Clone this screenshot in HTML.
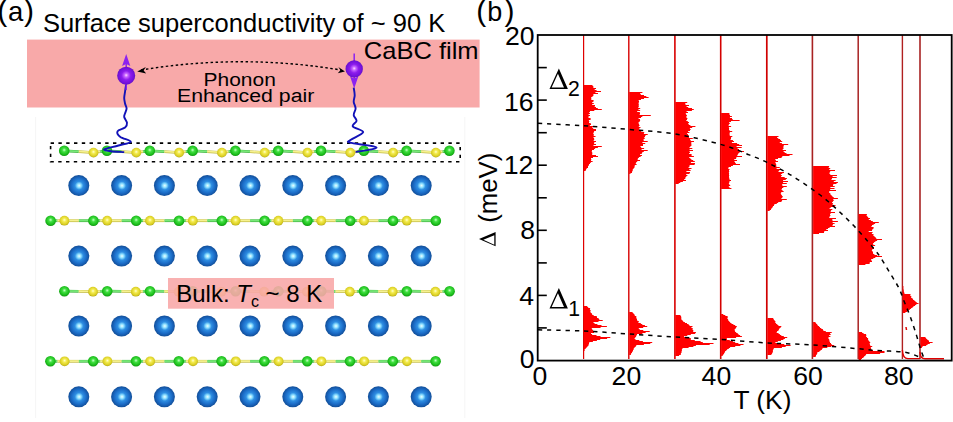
<!DOCTYPE html>
<html><head><meta charset="utf-8"><style>
html,body{margin:0;padding:0;background:#fff;width:953px;height:422px;overflow:hidden}
svg{display:block}
</style></head><body>
<svg width="953" height="422" viewBox="0 0 953 422">
<defs>
<radialGradient id="gBlue" cx="0.5" cy="0.5" r="0.55" fx="0.52" fy="0.5">
 <stop offset="0" stop-color="#ecffff"/>
 <stop offset="0.17" stop-color="#8ee0ff"/>
 <stop offset="0.36" stop-color="#2e8ee2"/>
 <stop offset="0.65" stop-color="#1b6bc6"/>
 <stop offset="1" stop-color="#0f4488"/>
</radialGradient>
<radialGradient id="gGreen" cx="0.5" cy="0.45" r="0.6" fx="0.5" fy="0.42">
 <stop offset="0" stop-color="#c8ffc8"/>
 <stop offset="0.3" stop-color="#40e040"/>
 <stop offset="0.75" stop-color="#18b818"/>
 <stop offset="1" stop-color="#0c800c"/>
</radialGradient>
<radialGradient id="gYellow" cx="0.5" cy="0.45" r="0.6" fx="0.5" fy="0.42">
 <stop offset="0" stop-color="#ffffd0"/>
 <stop offset="0.3" stop-color="#f4ec50"/>
 <stop offset="0.75" stop-color="#d8cc20"/>
 <stop offset="1" stop-color="#9a9010"/>
</radialGradient>
<radialGradient id="gPurple" cx="0.5" cy="0.5" r="0.56" fx="0.5" fy="0.47">
 <stop offset="0" stop-color="#ffd8ff"/>
 <stop offset="0.18" stop-color="#c868ff"/>
 <stop offset="0.45" stop-color="#8c1cec"/>
 <stop offset="0.8" stop-color="#7010d8"/>
 <stop offset="1" stop-color="#5008a8"/>
</radialGradient>
</defs>
<line x1="35.6" y1="117" x2="35.6" y2="418" stroke="#f5f5f5" stroke-width="1"/>
<line x1="464.8" y1="117" x2="464.8" y2="418" stroke="#f5f5f5" stroke-width="1"/>
<circle cx="78.8" cy="185.6" r="10.5" fill="url(#gBlue)"/>
<circle cx="121.6" cy="185.6" r="10.5" fill="url(#gBlue)"/>
<circle cx="164.4" cy="185.6" r="10.5" fill="url(#gBlue)"/>
<circle cx="207.2" cy="185.6" r="10.5" fill="url(#gBlue)"/>
<circle cx="250.0" cy="185.6" r="10.5" fill="url(#gBlue)"/>
<circle cx="292.8" cy="185.6" r="10.5" fill="url(#gBlue)"/>
<circle cx="335.6" cy="185.6" r="10.5" fill="url(#gBlue)"/>
<circle cx="378.4" cy="185.6" r="10.5" fill="url(#gBlue)"/>
<circle cx="421.2" cy="185.6" r="10.5" fill="url(#gBlue)"/>
<circle cx="78.8" cy="256.1" r="10.5" fill="url(#gBlue)"/>
<circle cx="121.6" cy="256.1" r="10.5" fill="url(#gBlue)"/>
<circle cx="164.4" cy="256.1" r="10.5" fill="url(#gBlue)"/>
<circle cx="207.2" cy="256.1" r="10.5" fill="url(#gBlue)"/>
<circle cx="250.0" cy="256.1" r="10.5" fill="url(#gBlue)"/>
<circle cx="292.8" cy="256.1" r="10.5" fill="url(#gBlue)"/>
<circle cx="335.6" cy="256.1" r="10.5" fill="url(#gBlue)"/>
<circle cx="378.4" cy="256.1" r="10.5" fill="url(#gBlue)"/>
<circle cx="421.2" cy="256.1" r="10.5" fill="url(#gBlue)"/>
<circle cx="78.8" cy="326.0" r="10.5" fill="url(#gBlue)"/>
<circle cx="121.6" cy="326.0" r="10.5" fill="url(#gBlue)"/>
<circle cx="164.4" cy="326.0" r="10.5" fill="url(#gBlue)"/>
<circle cx="207.2" cy="326.0" r="10.5" fill="url(#gBlue)"/>
<circle cx="250.0" cy="326.0" r="10.5" fill="url(#gBlue)"/>
<circle cx="292.8" cy="326.0" r="10.5" fill="url(#gBlue)"/>
<circle cx="335.6" cy="326.0" r="10.5" fill="url(#gBlue)"/>
<circle cx="378.4" cy="326.0" r="10.5" fill="url(#gBlue)"/>
<circle cx="421.2" cy="326.0" r="10.5" fill="url(#gBlue)"/>
<circle cx="78.8" cy="396.8" r="10.5" fill="url(#gBlue)"/>
<circle cx="121.6" cy="396.8" r="10.5" fill="url(#gBlue)"/>
<circle cx="164.4" cy="396.8" r="10.5" fill="url(#gBlue)"/>
<circle cx="207.2" cy="396.8" r="10.5" fill="url(#gBlue)"/>
<circle cx="250.0" cy="396.8" r="10.5" fill="url(#gBlue)"/>
<circle cx="292.8" cy="396.8" r="10.5" fill="url(#gBlue)"/>
<circle cx="335.6" cy="396.8" r="10.5" fill="url(#gBlue)"/>
<circle cx="378.4" cy="396.8" r="10.5" fill="url(#gBlue)"/>
<circle cx="421.2" cy="396.8" r="10.5" fill="url(#gBlue)"/>
<line x1="64.2" y1="150.8" x2="78.8" y2="151.7" stroke="#48b848" stroke-width="2.8"/>
<line x1="78.8" y1="151.7" x2="93.5" y2="152.6" stroke="#c4bc48" stroke-width="2.8"/>
<line x1="64.2" y1="150.6" x2="78.8" y2="151.5" stroke="#78e878" stroke-width="1.7"/>
<line x1="78.8" y1="151.5" x2="93.5" y2="152.4" stroke="#f6f290" stroke-width="1.7"/>
<line x1="93.5" y1="152.6" x2="100.2" y2="151.7" stroke="#c4bc48" stroke-width="2.8"/>
<line x1="100.2" y1="151.7" x2="107.0" y2="150.8" stroke="#48b848" stroke-width="2.8"/>
<line x1="93.5" y1="152.4" x2="100.2" y2="151.5" stroke="#f6f290" stroke-width="1.7"/>
<line x1="100.2" y1="151.5" x2="107.0" y2="150.6" stroke="#78e878" stroke-width="1.7"/>
<line x1="107.0" y1="150.8" x2="121.7" y2="151.7" stroke="#48b848" stroke-width="2.8"/>
<line x1="121.7" y1="151.7" x2="136.3" y2="152.6" stroke="#c4bc48" stroke-width="2.8"/>
<line x1="107.0" y1="150.6" x2="121.7" y2="151.5" stroke="#78e878" stroke-width="1.7"/>
<line x1="121.7" y1="151.5" x2="136.3" y2="152.4" stroke="#f6f290" stroke-width="1.7"/>
<line x1="136.3" y1="152.6" x2="143.1" y2="151.7" stroke="#c4bc48" stroke-width="2.8"/>
<line x1="143.1" y1="151.7" x2="149.8" y2="150.8" stroke="#48b848" stroke-width="2.8"/>
<line x1="136.3" y1="152.4" x2="143.1" y2="151.5" stroke="#f6f290" stroke-width="1.7"/>
<line x1="143.1" y1="151.5" x2="149.8" y2="150.6" stroke="#78e878" stroke-width="1.7"/>
<line x1="149.8" y1="150.8" x2="164.4" y2="151.7" stroke="#48b848" stroke-width="2.8"/>
<line x1="164.4" y1="151.7" x2="179.1" y2="152.6" stroke="#c4bc48" stroke-width="2.8"/>
<line x1="149.8" y1="150.6" x2="164.4" y2="151.5" stroke="#78e878" stroke-width="1.7"/>
<line x1="164.4" y1="151.5" x2="179.1" y2="152.4" stroke="#f6f290" stroke-width="1.7"/>
<line x1="179.1" y1="152.6" x2="185.8" y2="151.7" stroke="#c4bc48" stroke-width="2.8"/>
<line x1="185.8" y1="151.7" x2="192.6" y2="150.8" stroke="#48b848" stroke-width="2.8"/>
<line x1="179.1" y1="152.4" x2="185.8" y2="151.5" stroke="#f6f290" stroke-width="1.7"/>
<line x1="185.8" y1="151.5" x2="192.6" y2="150.6" stroke="#78e878" stroke-width="1.7"/>
<line x1="192.6" y1="150.8" x2="207.2" y2="151.7" stroke="#48b848" stroke-width="2.8"/>
<line x1="207.2" y1="151.7" x2="221.9" y2="152.6" stroke="#c4bc48" stroke-width="2.8"/>
<line x1="192.6" y1="150.6" x2="207.2" y2="151.5" stroke="#78e878" stroke-width="1.7"/>
<line x1="207.2" y1="151.5" x2="221.9" y2="152.4" stroke="#f6f290" stroke-width="1.7"/>
<line x1="221.9" y1="152.6" x2="228.6" y2="151.7" stroke="#c4bc48" stroke-width="2.8"/>
<line x1="228.6" y1="151.7" x2="235.4" y2="150.8" stroke="#48b848" stroke-width="2.8"/>
<line x1="221.9" y1="152.4" x2="228.6" y2="151.5" stroke="#f6f290" stroke-width="1.7"/>
<line x1="228.6" y1="151.5" x2="235.4" y2="150.6" stroke="#78e878" stroke-width="1.7"/>
<line x1="235.4" y1="150.8" x2="250.0" y2="151.7" stroke="#48b848" stroke-width="2.8"/>
<line x1="250.0" y1="151.7" x2="264.7" y2="152.6" stroke="#c4bc48" stroke-width="2.8"/>
<line x1="235.4" y1="150.6" x2="250.0" y2="151.5" stroke="#78e878" stroke-width="1.7"/>
<line x1="250.0" y1="151.5" x2="264.7" y2="152.4" stroke="#f6f290" stroke-width="1.7"/>
<line x1="264.7" y1="152.6" x2="271.4" y2="151.7" stroke="#c4bc48" stroke-width="2.8"/>
<line x1="271.4" y1="151.7" x2="278.2" y2="150.8" stroke="#48b848" stroke-width="2.8"/>
<line x1="264.7" y1="152.4" x2="271.4" y2="151.5" stroke="#f6f290" stroke-width="1.7"/>
<line x1="271.4" y1="151.5" x2="278.2" y2="150.6" stroke="#78e878" stroke-width="1.7"/>
<line x1="278.2" y1="150.8" x2="292.9" y2="151.7" stroke="#48b848" stroke-width="2.8"/>
<line x1="292.9" y1="151.7" x2="307.5" y2="152.6" stroke="#c4bc48" stroke-width="2.8"/>
<line x1="278.2" y1="150.6" x2="292.9" y2="151.5" stroke="#78e878" stroke-width="1.7"/>
<line x1="292.9" y1="151.5" x2="307.5" y2="152.4" stroke="#f6f290" stroke-width="1.7"/>
<line x1="307.5" y1="152.6" x2="314.2" y2="151.7" stroke="#c4bc48" stroke-width="2.8"/>
<line x1="314.2" y1="151.7" x2="321.0" y2="150.8" stroke="#48b848" stroke-width="2.8"/>
<line x1="307.5" y1="152.4" x2="314.2" y2="151.5" stroke="#f6f290" stroke-width="1.7"/>
<line x1="314.2" y1="151.5" x2="321.0" y2="150.6" stroke="#78e878" stroke-width="1.7"/>
<line x1="321.0" y1="150.8" x2="335.6" y2="151.7" stroke="#48b848" stroke-width="2.8"/>
<line x1="335.6" y1="151.7" x2="350.3" y2="152.6" stroke="#c4bc48" stroke-width="2.8"/>
<line x1="321.0" y1="150.6" x2="335.6" y2="151.5" stroke="#78e878" stroke-width="1.7"/>
<line x1="335.6" y1="151.5" x2="350.3" y2="152.4" stroke="#f6f290" stroke-width="1.7"/>
<line x1="350.3" y1="152.6" x2="357.0" y2="151.7" stroke="#c4bc48" stroke-width="2.8"/>
<line x1="357.0" y1="151.7" x2="363.8" y2="150.8" stroke="#48b848" stroke-width="2.8"/>
<line x1="350.3" y1="152.4" x2="357.0" y2="151.5" stroke="#f6f290" stroke-width="1.7"/>
<line x1="357.0" y1="151.5" x2="363.8" y2="150.6" stroke="#78e878" stroke-width="1.7"/>
<line x1="363.8" y1="150.8" x2="378.4" y2="151.7" stroke="#48b848" stroke-width="2.8"/>
<line x1="378.4" y1="151.7" x2="393.1" y2="152.6" stroke="#c4bc48" stroke-width="2.8"/>
<line x1="363.8" y1="150.6" x2="378.4" y2="151.5" stroke="#78e878" stroke-width="1.7"/>
<line x1="378.4" y1="151.5" x2="393.1" y2="152.4" stroke="#f6f290" stroke-width="1.7"/>
<line x1="393.1" y1="152.6" x2="399.8" y2="151.7" stroke="#c4bc48" stroke-width="2.8"/>
<line x1="399.8" y1="151.7" x2="406.6" y2="150.8" stroke="#48b848" stroke-width="2.8"/>
<line x1="393.1" y1="152.4" x2="399.8" y2="151.5" stroke="#f6f290" stroke-width="1.7"/>
<line x1="399.8" y1="151.5" x2="406.6" y2="150.6" stroke="#78e878" stroke-width="1.7"/>
<line x1="406.6" y1="150.8" x2="421.2" y2="151.7" stroke="#48b848" stroke-width="2.8"/>
<line x1="421.2" y1="151.7" x2="435.9" y2="152.6" stroke="#c4bc48" stroke-width="2.8"/>
<line x1="406.6" y1="150.6" x2="421.2" y2="151.5" stroke="#78e878" stroke-width="1.7"/>
<line x1="421.2" y1="151.5" x2="435.9" y2="152.4" stroke="#f6f290" stroke-width="1.7"/>
<line x1="435.9" y1="152.6" x2="442.6" y2="151.7" stroke="#c4bc48" stroke-width="2.8"/>
<line x1="442.6" y1="151.7" x2="449.4" y2="150.8" stroke="#48b848" stroke-width="2.8"/>
<line x1="435.9" y1="152.4" x2="442.6" y2="151.5" stroke="#f6f290" stroke-width="1.7"/>
<line x1="442.6" y1="151.5" x2="449.4" y2="150.6" stroke="#78e878" stroke-width="1.7"/>
<circle cx="64.2" cy="150.8" r="5.3" fill="url(#gGreen)"/>
<circle cx="93.5" cy="152.6" r="4.9" fill="url(#gYellow)"/>
<circle cx="107.0" cy="150.8" r="5.3" fill="url(#gGreen)"/>
<circle cx="136.3" cy="152.6" r="4.9" fill="url(#gYellow)"/>
<circle cx="149.8" cy="150.8" r="5.3" fill="url(#gGreen)"/>
<circle cx="179.1" cy="152.6" r="4.9" fill="url(#gYellow)"/>
<circle cx="192.6" cy="150.8" r="5.3" fill="url(#gGreen)"/>
<circle cx="221.9" cy="152.6" r="4.9" fill="url(#gYellow)"/>
<circle cx="235.4" cy="150.8" r="5.3" fill="url(#gGreen)"/>
<circle cx="264.7" cy="152.6" r="4.9" fill="url(#gYellow)"/>
<circle cx="278.2" cy="150.8" r="5.3" fill="url(#gGreen)"/>
<circle cx="307.5" cy="152.6" r="4.9" fill="url(#gYellow)"/>
<circle cx="321.0" cy="150.8" r="5.3" fill="url(#gGreen)"/>
<circle cx="350.3" cy="152.6" r="4.9" fill="url(#gYellow)"/>
<circle cx="363.8" cy="150.8" r="5.3" fill="url(#gGreen)"/>
<circle cx="393.1" cy="152.6" r="4.9" fill="url(#gYellow)"/>
<circle cx="406.6" cy="150.8" r="5.3" fill="url(#gGreen)"/>
<circle cx="435.9" cy="152.6" r="4.9" fill="url(#gYellow)"/>
<circle cx="449.4" cy="150.8" r="5.3" fill="url(#gGreen)"/>
<line x1="50.6" y1="220.7" x2="57.5" y2="220.7" stroke="#48b848" stroke-width="2.8"/>
<line x1="57.5" y1="220.7" x2="64.4" y2="220.7" stroke="#c4bc48" stroke-width="2.8"/>
<line x1="50.6" y1="220.5" x2="57.5" y2="220.5" stroke="#78e878" stroke-width="1.7"/>
<line x1="57.5" y1="220.5" x2="64.4" y2="220.5" stroke="#f6f290" stroke-width="1.7"/>
<line x1="64.4" y1="220.7" x2="78.9" y2="220.7" stroke="#c4bc48" stroke-width="2.8"/>
<line x1="78.9" y1="220.7" x2="93.4" y2="220.7" stroke="#48b848" stroke-width="2.8"/>
<line x1="64.4" y1="220.5" x2="78.9" y2="220.5" stroke="#f6f290" stroke-width="1.7"/>
<line x1="78.9" y1="220.5" x2="93.4" y2="220.5" stroke="#78e878" stroke-width="1.7"/>
<line x1="93.4" y1="220.7" x2="100.3" y2="220.7" stroke="#48b848" stroke-width="2.8"/>
<line x1="100.3" y1="220.7" x2="107.2" y2="220.7" stroke="#c4bc48" stroke-width="2.8"/>
<line x1="93.4" y1="220.5" x2="100.3" y2="220.5" stroke="#78e878" stroke-width="1.7"/>
<line x1="100.3" y1="220.5" x2="107.2" y2="220.5" stroke="#f6f290" stroke-width="1.7"/>
<line x1="107.2" y1="220.7" x2="121.7" y2="220.7" stroke="#c4bc48" stroke-width="2.8"/>
<line x1="121.7" y1="220.7" x2="136.2" y2="220.7" stroke="#48b848" stroke-width="2.8"/>
<line x1="107.2" y1="220.5" x2="121.7" y2="220.5" stroke="#f6f290" stroke-width="1.7"/>
<line x1="121.7" y1="220.5" x2="136.2" y2="220.5" stroke="#78e878" stroke-width="1.7"/>
<line x1="136.2" y1="220.7" x2="143.1" y2="220.7" stroke="#48b848" stroke-width="2.8"/>
<line x1="143.1" y1="220.7" x2="150.0" y2="220.7" stroke="#c4bc48" stroke-width="2.8"/>
<line x1="136.2" y1="220.5" x2="143.1" y2="220.5" stroke="#78e878" stroke-width="1.7"/>
<line x1="143.1" y1="220.5" x2="150.0" y2="220.5" stroke="#f6f290" stroke-width="1.7"/>
<line x1="150.0" y1="220.7" x2="164.5" y2="220.7" stroke="#c4bc48" stroke-width="2.8"/>
<line x1="164.5" y1="220.7" x2="179.0" y2="220.7" stroke="#48b848" stroke-width="2.8"/>
<line x1="150.0" y1="220.5" x2="164.5" y2="220.5" stroke="#f6f290" stroke-width="1.7"/>
<line x1="164.5" y1="220.5" x2="179.0" y2="220.5" stroke="#78e878" stroke-width="1.7"/>
<line x1="179.0" y1="220.7" x2="185.9" y2="220.7" stroke="#48b848" stroke-width="2.8"/>
<line x1="185.9" y1="220.7" x2="192.8" y2="220.7" stroke="#c4bc48" stroke-width="2.8"/>
<line x1="179.0" y1="220.5" x2="185.9" y2="220.5" stroke="#78e878" stroke-width="1.7"/>
<line x1="185.9" y1="220.5" x2="192.8" y2="220.5" stroke="#f6f290" stroke-width="1.7"/>
<line x1="192.8" y1="220.7" x2="207.3" y2="220.7" stroke="#c4bc48" stroke-width="2.8"/>
<line x1="207.3" y1="220.7" x2="221.8" y2="220.7" stroke="#48b848" stroke-width="2.8"/>
<line x1="192.8" y1="220.5" x2="207.3" y2="220.5" stroke="#f6f290" stroke-width="1.7"/>
<line x1="207.3" y1="220.5" x2="221.8" y2="220.5" stroke="#78e878" stroke-width="1.7"/>
<line x1="221.8" y1="220.7" x2="228.7" y2="220.7" stroke="#48b848" stroke-width="2.8"/>
<line x1="228.7" y1="220.7" x2="235.6" y2="220.7" stroke="#c4bc48" stroke-width="2.8"/>
<line x1="221.8" y1="220.5" x2="228.7" y2="220.5" stroke="#78e878" stroke-width="1.7"/>
<line x1="228.7" y1="220.5" x2="235.6" y2="220.5" stroke="#f6f290" stroke-width="1.7"/>
<line x1="235.6" y1="220.7" x2="250.1" y2="220.7" stroke="#c4bc48" stroke-width="2.8"/>
<line x1="250.1" y1="220.7" x2="264.6" y2="220.7" stroke="#48b848" stroke-width="2.8"/>
<line x1="235.6" y1="220.5" x2="250.1" y2="220.5" stroke="#f6f290" stroke-width="1.7"/>
<line x1="250.1" y1="220.5" x2="264.6" y2="220.5" stroke="#78e878" stroke-width="1.7"/>
<line x1="264.6" y1="220.7" x2="271.5" y2="220.7" stroke="#48b848" stroke-width="2.8"/>
<line x1="271.5" y1="220.7" x2="278.4" y2="220.7" stroke="#c4bc48" stroke-width="2.8"/>
<line x1="264.6" y1="220.5" x2="271.5" y2="220.5" stroke="#78e878" stroke-width="1.7"/>
<line x1="271.5" y1="220.5" x2="278.4" y2="220.5" stroke="#f6f290" stroke-width="1.7"/>
<line x1="278.4" y1="220.7" x2="292.9" y2="220.7" stroke="#c4bc48" stroke-width="2.8"/>
<line x1="292.9" y1="220.7" x2="307.4" y2="220.7" stroke="#48b848" stroke-width="2.8"/>
<line x1="278.4" y1="220.5" x2="292.9" y2="220.5" stroke="#f6f290" stroke-width="1.7"/>
<line x1="292.9" y1="220.5" x2="307.4" y2="220.5" stroke="#78e878" stroke-width="1.7"/>
<line x1="307.4" y1="220.7" x2="314.3" y2="220.7" stroke="#48b848" stroke-width="2.8"/>
<line x1="314.3" y1="220.7" x2="321.2" y2="220.7" stroke="#c4bc48" stroke-width="2.8"/>
<line x1="307.4" y1="220.5" x2="314.3" y2="220.5" stroke="#78e878" stroke-width="1.7"/>
<line x1="314.3" y1="220.5" x2="321.2" y2="220.5" stroke="#f6f290" stroke-width="1.7"/>
<line x1="321.2" y1="220.7" x2="335.7" y2="220.7" stroke="#c4bc48" stroke-width="2.8"/>
<line x1="335.7" y1="220.7" x2="350.2" y2="220.7" stroke="#48b848" stroke-width="2.8"/>
<line x1="321.2" y1="220.5" x2="335.7" y2="220.5" stroke="#f6f290" stroke-width="1.7"/>
<line x1="335.7" y1="220.5" x2="350.2" y2="220.5" stroke="#78e878" stroke-width="1.7"/>
<line x1="350.2" y1="220.7" x2="357.1" y2="220.7" stroke="#48b848" stroke-width="2.8"/>
<line x1="357.1" y1="220.7" x2="364.0" y2="220.7" stroke="#c4bc48" stroke-width="2.8"/>
<line x1="350.2" y1="220.5" x2="357.1" y2="220.5" stroke="#78e878" stroke-width="1.7"/>
<line x1="357.1" y1="220.5" x2="364.0" y2="220.5" stroke="#f6f290" stroke-width="1.7"/>
<line x1="364.0" y1="220.7" x2="378.5" y2="220.7" stroke="#c4bc48" stroke-width="2.8"/>
<line x1="378.5" y1="220.7" x2="393.0" y2="220.7" stroke="#48b848" stroke-width="2.8"/>
<line x1="364.0" y1="220.5" x2="378.5" y2="220.5" stroke="#f6f290" stroke-width="1.7"/>
<line x1="378.5" y1="220.5" x2="393.0" y2="220.5" stroke="#78e878" stroke-width="1.7"/>
<line x1="393.0" y1="220.7" x2="399.9" y2="220.7" stroke="#48b848" stroke-width="2.8"/>
<line x1="399.9" y1="220.7" x2="406.8" y2="220.7" stroke="#c4bc48" stroke-width="2.8"/>
<line x1="393.0" y1="220.5" x2="399.9" y2="220.5" stroke="#78e878" stroke-width="1.7"/>
<line x1="399.9" y1="220.5" x2="406.8" y2="220.5" stroke="#f6f290" stroke-width="1.7"/>
<line x1="406.8" y1="220.7" x2="421.3" y2="220.7" stroke="#c4bc48" stroke-width="2.8"/>
<line x1="421.3" y1="220.7" x2="435.8" y2="220.7" stroke="#48b848" stroke-width="2.8"/>
<line x1="406.8" y1="220.5" x2="421.3" y2="220.5" stroke="#f6f290" stroke-width="1.7"/>
<line x1="421.3" y1="220.5" x2="435.8" y2="220.5" stroke="#78e878" stroke-width="1.7"/>
<circle cx="50.6" cy="220.7" r="5.3" fill="url(#gGreen)"/>
<circle cx="64.4" cy="220.7" r="4.9" fill="url(#gYellow)"/>
<circle cx="93.4" cy="220.7" r="5.3" fill="url(#gGreen)"/>
<circle cx="107.2" cy="220.7" r="4.9" fill="url(#gYellow)"/>
<circle cx="136.2" cy="220.7" r="5.3" fill="url(#gGreen)"/>
<circle cx="150.0" cy="220.7" r="4.9" fill="url(#gYellow)"/>
<circle cx="179.0" cy="220.7" r="5.3" fill="url(#gGreen)"/>
<circle cx="192.8" cy="220.7" r="4.9" fill="url(#gYellow)"/>
<circle cx="221.8" cy="220.7" r="5.3" fill="url(#gGreen)"/>
<circle cx="235.6" cy="220.7" r="4.9" fill="url(#gYellow)"/>
<circle cx="264.6" cy="220.7" r="5.3" fill="url(#gGreen)"/>
<circle cx="278.4" cy="220.7" r="4.9" fill="url(#gYellow)"/>
<circle cx="307.4" cy="220.7" r="5.3" fill="url(#gGreen)"/>
<circle cx="321.2" cy="220.7" r="4.9" fill="url(#gYellow)"/>
<circle cx="350.2" cy="220.7" r="5.3" fill="url(#gGreen)"/>
<circle cx="364.0" cy="220.7" r="4.9" fill="url(#gYellow)"/>
<circle cx="393.0" cy="220.7" r="5.3" fill="url(#gGreen)"/>
<circle cx="406.8" cy="220.7" r="4.9" fill="url(#gYellow)"/>
<circle cx="435.8" cy="220.7" r="5.3" fill="url(#gGreen)"/>
<line x1="64.4" y1="291.2" x2="78.7" y2="291.4" stroke="#48b848" stroke-width="2.8"/>
<line x1="78.7" y1="291.4" x2="93.0" y2="291.7" stroke="#c4bc48" stroke-width="2.8"/>
<line x1="64.4" y1="291.0" x2="78.7" y2="291.2" stroke="#78e878" stroke-width="1.7"/>
<line x1="78.7" y1="291.2" x2="93.0" y2="291.5" stroke="#f6f290" stroke-width="1.7"/>
<line x1="93.0" y1="291.7" x2="100.1" y2="291.4" stroke="#c4bc48" stroke-width="2.8"/>
<line x1="100.1" y1="291.4" x2="107.2" y2="291.2" stroke="#48b848" stroke-width="2.8"/>
<line x1="93.0" y1="291.5" x2="100.1" y2="291.2" stroke="#f6f290" stroke-width="1.7"/>
<line x1="100.1" y1="291.2" x2="107.2" y2="291.0" stroke="#78e878" stroke-width="1.7"/>
<line x1="107.2" y1="291.2" x2="121.5" y2="291.4" stroke="#48b848" stroke-width="2.8"/>
<line x1="121.5" y1="291.4" x2="135.8" y2="291.7" stroke="#c4bc48" stroke-width="2.8"/>
<line x1="107.2" y1="291.0" x2="121.5" y2="291.2" stroke="#78e878" stroke-width="1.7"/>
<line x1="121.5" y1="291.2" x2="135.8" y2="291.5" stroke="#f6f290" stroke-width="1.7"/>
<line x1="135.8" y1="291.7" x2="142.9" y2="291.4" stroke="#c4bc48" stroke-width="2.8"/>
<line x1="142.9" y1="291.4" x2="150.0" y2="291.2" stroke="#48b848" stroke-width="2.8"/>
<line x1="135.8" y1="291.5" x2="142.9" y2="291.2" stroke="#f6f290" stroke-width="1.7"/>
<line x1="142.9" y1="291.2" x2="150.0" y2="291.0" stroke="#78e878" stroke-width="1.7"/>
<line x1="150.0" y1="291.2" x2="164.3" y2="291.4" stroke="#48b848" stroke-width="2.8"/>
<line x1="164.3" y1="291.4" x2="178.6" y2="291.7" stroke="#c4bc48" stroke-width="2.8"/>
<line x1="150.0" y1="291.0" x2="164.3" y2="291.2" stroke="#78e878" stroke-width="1.7"/>
<line x1="164.3" y1="291.2" x2="178.6" y2="291.5" stroke="#f6f290" stroke-width="1.7"/>
<line x1="178.6" y1="291.7" x2="185.7" y2="291.4" stroke="#c4bc48" stroke-width="2.8"/>
<line x1="185.7" y1="291.4" x2="192.8" y2="291.2" stroke="#48b848" stroke-width="2.8"/>
<line x1="178.6" y1="291.5" x2="185.7" y2="291.2" stroke="#f6f290" stroke-width="1.7"/>
<line x1="185.7" y1="291.2" x2="192.8" y2="291.0" stroke="#78e878" stroke-width="1.7"/>
<line x1="192.8" y1="291.2" x2="207.1" y2="291.4" stroke="#48b848" stroke-width="2.8"/>
<line x1="207.1" y1="291.4" x2="221.4" y2="291.7" stroke="#c4bc48" stroke-width="2.8"/>
<line x1="192.8" y1="291.0" x2="207.1" y2="291.2" stroke="#78e878" stroke-width="1.7"/>
<line x1="207.1" y1="291.2" x2="221.4" y2="291.5" stroke="#f6f290" stroke-width="1.7"/>
<line x1="221.4" y1="291.7" x2="228.5" y2="291.4" stroke="#c4bc48" stroke-width="2.8"/>
<line x1="228.5" y1="291.4" x2="235.6" y2="291.2" stroke="#48b848" stroke-width="2.8"/>
<line x1="221.4" y1="291.5" x2="228.5" y2="291.2" stroke="#f6f290" stroke-width="1.7"/>
<line x1="228.5" y1="291.2" x2="235.6" y2="291.0" stroke="#78e878" stroke-width="1.7"/>
<line x1="235.6" y1="291.2" x2="249.9" y2="291.4" stroke="#48b848" stroke-width="2.8"/>
<line x1="249.9" y1="291.4" x2="264.2" y2="291.7" stroke="#c4bc48" stroke-width="2.8"/>
<line x1="235.6" y1="291.0" x2="249.9" y2="291.2" stroke="#78e878" stroke-width="1.7"/>
<line x1="249.9" y1="291.2" x2="264.2" y2="291.5" stroke="#f6f290" stroke-width="1.7"/>
<line x1="264.2" y1="291.7" x2="271.3" y2="291.4" stroke="#c4bc48" stroke-width="2.8"/>
<line x1="271.3" y1="291.4" x2="278.4" y2="291.2" stroke="#48b848" stroke-width="2.8"/>
<line x1="264.2" y1="291.5" x2="271.3" y2="291.2" stroke="#f6f290" stroke-width="1.7"/>
<line x1="271.3" y1="291.2" x2="278.4" y2="291.0" stroke="#78e878" stroke-width="1.7"/>
<line x1="278.4" y1="291.2" x2="292.7" y2="291.4" stroke="#48b848" stroke-width="2.8"/>
<line x1="292.7" y1="291.4" x2="307.0" y2="291.7" stroke="#c4bc48" stroke-width="2.8"/>
<line x1="278.4" y1="291.0" x2="292.7" y2="291.2" stroke="#78e878" stroke-width="1.7"/>
<line x1="292.7" y1="291.2" x2="307.0" y2="291.5" stroke="#f6f290" stroke-width="1.7"/>
<line x1="307.0" y1="291.7" x2="314.1" y2="291.4" stroke="#c4bc48" stroke-width="2.8"/>
<line x1="314.1" y1="291.4" x2="321.2" y2="291.2" stroke="#48b848" stroke-width="2.8"/>
<line x1="307.0" y1="291.5" x2="314.1" y2="291.2" stroke="#f6f290" stroke-width="1.7"/>
<line x1="314.1" y1="291.2" x2="321.2" y2="291.0" stroke="#78e878" stroke-width="1.7"/>
<line x1="321.2" y1="291.2" x2="335.5" y2="291.4" stroke="#48b848" stroke-width="2.8"/>
<line x1="335.5" y1="291.4" x2="349.8" y2="291.7" stroke="#c4bc48" stroke-width="2.8"/>
<line x1="321.2" y1="291.0" x2="335.5" y2="291.2" stroke="#78e878" stroke-width="1.7"/>
<line x1="335.5" y1="291.2" x2="349.8" y2="291.5" stroke="#f6f290" stroke-width="1.7"/>
<line x1="349.8" y1="291.7" x2="356.9" y2="291.4" stroke="#c4bc48" stroke-width="2.8"/>
<line x1="356.9" y1="291.4" x2="364.0" y2="291.2" stroke="#48b848" stroke-width="2.8"/>
<line x1="349.8" y1="291.5" x2="356.9" y2="291.2" stroke="#f6f290" stroke-width="1.7"/>
<line x1="356.9" y1="291.2" x2="364.0" y2="291.0" stroke="#78e878" stroke-width="1.7"/>
<line x1="364.0" y1="291.2" x2="378.3" y2="291.4" stroke="#48b848" stroke-width="2.8"/>
<line x1="378.3" y1="291.4" x2="392.6" y2="291.7" stroke="#c4bc48" stroke-width="2.8"/>
<line x1="364.0" y1="291.0" x2="378.3" y2="291.2" stroke="#78e878" stroke-width="1.7"/>
<line x1="378.3" y1="291.2" x2="392.6" y2="291.5" stroke="#f6f290" stroke-width="1.7"/>
<line x1="392.6" y1="291.7" x2="399.7" y2="291.4" stroke="#c4bc48" stroke-width="2.8"/>
<line x1="399.7" y1="291.4" x2="406.8" y2="291.2" stroke="#48b848" stroke-width="2.8"/>
<line x1="392.6" y1="291.5" x2="399.7" y2="291.2" stroke="#f6f290" stroke-width="1.7"/>
<line x1="399.7" y1="291.2" x2="406.8" y2="291.0" stroke="#78e878" stroke-width="1.7"/>
<line x1="406.8" y1="291.2" x2="421.1" y2="291.4" stroke="#48b848" stroke-width="2.8"/>
<line x1="421.1" y1="291.4" x2="435.4" y2="291.7" stroke="#c4bc48" stroke-width="2.8"/>
<line x1="406.8" y1="291.0" x2="421.1" y2="291.2" stroke="#78e878" stroke-width="1.7"/>
<line x1="421.1" y1="291.2" x2="435.4" y2="291.5" stroke="#f6f290" stroke-width="1.7"/>
<line x1="435.4" y1="291.7" x2="442.5" y2="291.4" stroke="#c4bc48" stroke-width="2.8"/>
<line x1="442.5" y1="291.4" x2="449.6" y2="291.2" stroke="#48b848" stroke-width="2.8"/>
<line x1="435.4" y1="291.5" x2="442.5" y2="291.2" stroke="#f6f290" stroke-width="1.7"/>
<line x1="442.5" y1="291.2" x2="449.6" y2="291.0" stroke="#78e878" stroke-width="1.7"/>
<circle cx="64.4" cy="291.2" r="5.3" fill="url(#gGreen)"/>
<circle cx="93.0" cy="291.7" r="4.9" fill="url(#gYellow)"/>
<circle cx="107.2" cy="291.2" r="5.3" fill="url(#gGreen)"/>
<circle cx="135.8" cy="291.7" r="4.9" fill="url(#gYellow)"/>
<circle cx="150.0" cy="291.2" r="5.3" fill="url(#gGreen)"/>
<circle cx="178.6" cy="291.7" r="4.9" fill="url(#gYellow)"/>
<circle cx="192.8" cy="291.2" r="5.3" fill="url(#gGreen)"/>
<circle cx="221.4" cy="291.7" r="4.9" fill="url(#gYellow)"/>
<circle cx="235.6" cy="291.2" r="5.3" fill="url(#gGreen)"/>
<circle cx="264.2" cy="291.7" r="4.9" fill="url(#gYellow)"/>
<circle cx="278.4" cy="291.2" r="5.3" fill="url(#gGreen)"/>
<circle cx="307.0" cy="291.7" r="4.9" fill="url(#gYellow)"/>
<circle cx="321.2" cy="291.2" r="5.3" fill="url(#gGreen)"/>
<circle cx="349.8" cy="291.7" r="4.9" fill="url(#gYellow)"/>
<circle cx="364.0" cy="291.2" r="5.3" fill="url(#gGreen)"/>
<circle cx="392.6" cy="291.7" r="4.9" fill="url(#gYellow)"/>
<circle cx="406.8" cy="291.2" r="5.3" fill="url(#gGreen)"/>
<circle cx="435.4" cy="291.7" r="4.9" fill="url(#gYellow)"/>
<circle cx="449.6" cy="291.2" r="5.3" fill="url(#gGreen)"/>
<line x1="50.4" y1="361.3" x2="57.5" y2="361.3" stroke="#48b848" stroke-width="2.8"/>
<line x1="57.5" y1="361.3" x2="64.6" y2="361.3" stroke="#c4bc48" stroke-width="2.8"/>
<line x1="50.4" y1="361.1" x2="57.5" y2="361.1" stroke="#78e878" stroke-width="1.7"/>
<line x1="57.5" y1="361.1" x2="64.6" y2="361.1" stroke="#f6f290" stroke-width="1.7"/>
<line x1="64.6" y1="361.3" x2="78.9" y2="361.3" stroke="#c4bc48" stroke-width="2.8"/>
<line x1="78.9" y1="361.3" x2="93.2" y2="361.3" stroke="#48b848" stroke-width="2.8"/>
<line x1="64.6" y1="361.1" x2="78.9" y2="361.1" stroke="#f6f290" stroke-width="1.7"/>
<line x1="78.9" y1="361.1" x2="93.2" y2="361.1" stroke="#78e878" stroke-width="1.7"/>
<line x1="93.2" y1="361.3" x2="100.3" y2="361.3" stroke="#48b848" stroke-width="2.8"/>
<line x1="100.3" y1="361.3" x2="107.4" y2="361.3" stroke="#c4bc48" stroke-width="2.8"/>
<line x1="93.2" y1="361.1" x2="100.3" y2="361.1" stroke="#78e878" stroke-width="1.7"/>
<line x1="100.3" y1="361.1" x2="107.4" y2="361.1" stroke="#f6f290" stroke-width="1.7"/>
<line x1="107.4" y1="361.3" x2="121.7" y2="361.3" stroke="#c4bc48" stroke-width="2.8"/>
<line x1="121.7" y1="361.3" x2="136.0" y2="361.3" stroke="#48b848" stroke-width="2.8"/>
<line x1="107.4" y1="361.1" x2="121.7" y2="361.1" stroke="#f6f290" stroke-width="1.7"/>
<line x1="121.7" y1="361.1" x2="136.0" y2="361.1" stroke="#78e878" stroke-width="1.7"/>
<line x1="136.0" y1="361.3" x2="143.1" y2="361.3" stroke="#48b848" stroke-width="2.8"/>
<line x1="143.1" y1="361.3" x2="150.2" y2="361.3" stroke="#c4bc48" stroke-width="2.8"/>
<line x1="136.0" y1="361.1" x2="143.1" y2="361.1" stroke="#78e878" stroke-width="1.7"/>
<line x1="143.1" y1="361.1" x2="150.2" y2="361.1" stroke="#f6f290" stroke-width="1.7"/>
<line x1="150.2" y1="361.3" x2="164.5" y2="361.3" stroke="#c4bc48" stroke-width="2.8"/>
<line x1="164.5" y1="361.3" x2="178.8" y2="361.3" stroke="#48b848" stroke-width="2.8"/>
<line x1="150.2" y1="361.1" x2="164.5" y2="361.1" stroke="#f6f290" stroke-width="1.7"/>
<line x1="164.5" y1="361.1" x2="178.8" y2="361.1" stroke="#78e878" stroke-width="1.7"/>
<line x1="178.8" y1="361.3" x2="185.9" y2="361.3" stroke="#48b848" stroke-width="2.8"/>
<line x1="185.9" y1="361.3" x2="193.0" y2="361.3" stroke="#c4bc48" stroke-width="2.8"/>
<line x1="178.8" y1="361.1" x2="185.9" y2="361.1" stroke="#78e878" stroke-width="1.7"/>
<line x1="185.9" y1="361.1" x2="193.0" y2="361.1" stroke="#f6f290" stroke-width="1.7"/>
<line x1="193.0" y1="361.3" x2="207.3" y2="361.3" stroke="#c4bc48" stroke-width="2.8"/>
<line x1="207.3" y1="361.3" x2="221.6" y2="361.3" stroke="#48b848" stroke-width="2.8"/>
<line x1="193.0" y1="361.1" x2="207.3" y2="361.1" stroke="#f6f290" stroke-width="1.7"/>
<line x1="207.3" y1="361.1" x2="221.6" y2="361.1" stroke="#78e878" stroke-width="1.7"/>
<line x1="221.6" y1="361.3" x2="228.7" y2="361.3" stroke="#48b848" stroke-width="2.8"/>
<line x1="228.7" y1="361.3" x2="235.8" y2="361.3" stroke="#c4bc48" stroke-width="2.8"/>
<line x1="221.6" y1="361.1" x2="228.7" y2="361.1" stroke="#78e878" stroke-width="1.7"/>
<line x1="228.7" y1="361.1" x2="235.8" y2="361.1" stroke="#f6f290" stroke-width="1.7"/>
<line x1="235.8" y1="361.3" x2="250.1" y2="361.3" stroke="#c4bc48" stroke-width="2.8"/>
<line x1="250.1" y1="361.3" x2="264.4" y2="361.3" stroke="#48b848" stroke-width="2.8"/>
<line x1="235.8" y1="361.1" x2="250.1" y2="361.1" stroke="#f6f290" stroke-width="1.7"/>
<line x1="250.1" y1="361.1" x2="264.4" y2="361.1" stroke="#78e878" stroke-width="1.7"/>
<line x1="264.4" y1="361.3" x2="271.5" y2="361.3" stroke="#48b848" stroke-width="2.8"/>
<line x1="271.5" y1="361.3" x2="278.6" y2="361.3" stroke="#c4bc48" stroke-width="2.8"/>
<line x1="264.4" y1="361.1" x2="271.5" y2="361.1" stroke="#78e878" stroke-width="1.7"/>
<line x1="271.5" y1="361.1" x2="278.6" y2="361.1" stroke="#f6f290" stroke-width="1.7"/>
<line x1="278.6" y1="361.3" x2="292.9" y2="361.3" stroke="#c4bc48" stroke-width="2.8"/>
<line x1="292.9" y1="361.3" x2="307.2" y2="361.3" stroke="#48b848" stroke-width="2.8"/>
<line x1="278.6" y1="361.1" x2="292.9" y2="361.1" stroke="#f6f290" stroke-width="1.7"/>
<line x1="292.9" y1="361.1" x2="307.2" y2="361.1" stroke="#78e878" stroke-width="1.7"/>
<line x1="307.2" y1="361.3" x2="314.3" y2="361.3" stroke="#48b848" stroke-width="2.8"/>
<line x1="314.3" y1="361.3" x2="321.4" y2="361.3" stroke="#c4bc48" stroke-width="2.8"/>
<line x1="307.2" y1="361.1" x2="314.3" y2="361.1" stroke="#78e878" stroke-width="1.7"/>
<line x1="314.3" y1="361.1" x2="321.4" y2="361.1" stroke="#f6f290" stroke-width="1.7"/>
<line x1="321.4" y1="361.3" x2="335.7" y2="361.3" stroke="#c4bc48" stroke-width="2.8"/>
<line x1="335.7" y1="361.3" x2="350.0" y2="361.3" stroke="#48b848" stroke-width="2.8"/>
<line x1="321.4" y1="361.1" x2="335.7" y2="361.1" stroke="#f6f290" stroke-width="1.7"/>
<line x1="335.7" y1="361.1" x2="350.0" y2="361.1" stroke="#78e878" stroke-width="1.7"/>
<line x1="350.0" y1="361.3" x2="357.1" y2="361.3" stroke="#48b848" stroke-width="2.8"/>
<line x1="357.1" y1="361.3" x2="364.2" y2="361.3" stroke="#c4bc48" stroke-width="2.8"/>
<line x1="350.0" y1="361.1" x2="357.1" y2="361.1" stroke="#78e878" stroke-width="1.7"/>
<line x1="357.1" y1="361.1" x2="364.2" y2="361.1" stroke="#f6f290" stroke-width="1.7"/>
<line x1="364.2" y1="361.3" x2="378.5" y2="361.3" stroke="#c4bc48" stroke-width="2.8"/>
<line x1="378.5" y1="361.3" x2="392.8" y2="361.3" stroke="#48b848" stroke-width="2.8"/>
<line x1="364.2" y1="361.1" x2="378.5" y2="361.1" stroke="#f6f290" stroke-width="1.7"/>
<line x1="378.5" y1="361.1" x2="392.8" y2="361.1" stroke="#78e878" stroke-width="1.7"/>
<line x1="392.8" y1="361.3" x2="399.9" y2="361.3" stroke="#48b848" stroke-width="2.8"/>
<line x1="399.9" y1="361.3" x2="407.0" y2="361.3" stroke="#c4bc48" stroke-width="2.8"/>
<line x1="392.8" y1="361.1" x2="399.9" y2="361.1" stroke="#78e878" stroke-width="1.7"/>
<line x1="399.9" y1="361.1" x2="407.0" y2="361.1" stroke="#f6f290" stroke-width="1.7"/>
<line x1="407.0" y1="361.3" x2="421.3" y2="361.3" stroke="#c4bc48" stroke-width="2.8"/>
<line x1="421.3" y1="361.3" x2="435.6" y2="361.3" stroke="#48b848" stroke-width="2.8"/>
<line x1="407.0" y1="361.1" x2="421.3" y2="361.1" stroke="#f6f290" stroke-width="1.7"/>
<line x1="421.3" y1="361.1" x2="435.6" y2="361.1" stroke="#78e878" stroke-width="1.7"/>
<circle cx="50.4" cy="361.3" r="5.3" fill="url(#gGreen)"/>
<circle cx="64.6" cy="361.3" r="4.9" fill="url(#gYellow)"/>
<circle cx="93.2" cy="361.3" r="5.3" fill="url(#gGreen)"/>
<circle cx="107.4" cy="361.3" r="4.9" fill="url(#gYellow)"/>
<circle cx="136.0" cy="361.3" r="5.3" fill="url(#gGreen)"/>
<circle cx="150.2" cy="361.3" r="4.9" fill="url(#gYellow)"/>
<circle cx="178.8" cy="361.3" r="5.3" fill="url(#gGreen)"/>
<circle cx="193.0" cy="361.3" r="4.9" fill="url(#gYellow)"/>
<circle cx="221.6" cy="361.3" r="5.3" fill="url(#gGreen)"/>
<circle cx="235.8" cy="361.3" r="4.9" fill="url(#gYellow)"/>
<circle cx="264.4" cy="361.3" r="5.3" fill="url(#gGreen)"/>
<circle cx="278.6" cy="361.3" r="4.9" fill="url(#gYellow)"/>
<circle cx="307.2" cy="361.3" r="5.3" fill="url(#gGreen)"/>
<circle cx="321.4" cy="361.3" r="4.9" fill="url(#gYellow)"/>
<circle cx="350.0" cy="361.3" r="5.3" fill="url(#gGreen)"/>
<circle cx="364.2" cy="361.3" r="4.9" fill="url(#gYellow)"/>
<circle cx="392.8" cy="361.3" r="5.3" fill="url(#gGreen)"/>
<circle cx="407.0" cy="361.3" r="4.9" fill="url(#gYellow)"/>
<circle cx="435.6" cy="361.3" r="5.3" fill="url(#gGreen)"/>
<rect x="50.6" y="143.1" width="409.6" height="18.6" fill="none" stroke="#000" stroke-width="1.6" stroke-dasharray="3.4 4.4"/>
<rect x="27" y="39.6" width="452.6" height="67.9" fill="#f8a9a9"/>
<rect x="168" y="278" width="166" height="30.7" fill="#f8a9a9" fill-opacity="0.9"/>
<text x="-2.8" y="20.5" font-family="Liberation Sans, sans-serif" font-size="30">(</text><text x="8" y="20.5" font-family="Liberation Sans, sans-serif" font-size="27.5">a</text><text x="24" y="20.5" font-family="Liberation Sans, sans-serif" font-size="30">)</text>
<text x="42.9" y="32.3" font-family="Liberation Sans, sans-serif" font-size="25" textLength="402.4" lengthAdjust="spacingAndGlyphs">Surface superconductivity of ~ 90 K</text>
<text x="363.8" y="59.1" font-family="Liberation Sans, sans-serif" font-size="24" textLength="114.8" lengthAdjust="spacingAndGlyphs">CaBC film</text>
<text x="203.6" y="85.8" font-family="Liberation Sans, sans-serif" font-size="19.2" textLength="72.2" lengthAdjust="spacingAndGlyphs">Phonon</text>
<text x="177.1" y="101.7" font-family="Liberation Sans, sans-serif" font-size="17.6" textLength="137.2" lengthAdjust="spacingAndGlyphs">Enhanced pair</text>
<text x="176.2" y="301.8" font-family="Liberation Sans, sans-serif" font-size="24">Bulk: <tspan font-style="italic">T</tspan><tspan font-size="16" dy="5">c</tspan><tspan dy="-5"> ~ 8 K</tspan></text>
<path d="M126.1,84.7 C125.9,85.8 125.4,89.2 125.1,91.4 C124.8,93.6 124.2,96.0 124.2,98.0 C124.2,100.0 124.7,102.0 125.1,103.7 C125.5,105.5 126.6,106.9 126.6,108.5 C126.6,110.1 125.5,111.8 125.1,113.2 C124.7,114.6 123.9,115.4 124.2,117.0 C124.5,118.6 126.8,121.0 127.0,122.7 C127.2,124.5 126.7,126.1 125.1,127.5 C123.5,128.9 118.3,129.7 117.5,131.3 C116.7,132.9 118.2,135.3 120.4,137.0 C122.6,138.7 131.1,140.3 130.8,141.7 C130.5,143.1 122.9,144.2 118.5,145.5 C114.1,146.8 105.5,148.4 104.2,149.3 C102.9,150.2 107.6,150.7 110.9,151.2 C114.2,151.7 122.0,151.9 124.2,152.1" fill="none" stroke="#1212b8" stroke-width="1.9"/>
<path d="M353.7,87.6 C353.9,88.9 354.7,92.8 354.7,95.2 C354.7,97.6 353.5,99.6 353.7,101.8 C353.9,104.0 355.6,106.3 355.6,108.5 C355.6,110.7 353.5,113.0 353.7,115.1 C353.9,117.1 356.8,118.9 356.6,120.8 C356.5,122.7 351.7,124.6 352.8,126.5 C353.9,128.4 363.5,130.0 363.2,132.2 C362.9,134.4 353.1,138.1 350.9,139.8 C348.7,141.6 345.6,141.4 349.9,142.7 C354.2,144.0 375.6,145.8 376.5,147.4 C377.4,149.0 359.1,151.3 355.6,152.1" fill="none" stroke="#1212b8" stroke-width="1.9"/>
<path d="M141,70 Q241,53.5 341,70" fill="none" stroke="#000" stroke-width="1.4" stroke-dasharray="2.5 2.5"/>
<path d="M137.2,71.6 L145.8,67.0 L143.6,70.4 L146.2,73.4 Z" fill="#000"/>
<path d="M344.9,71.5 L338.4,66.9 L340.4,70.3 L337.8,73.3 Z" fill="#000"/>
<line x1="126.2" y1="62" x2="126.2" y2="90" stroke="#8c22f0" stroke-width="1.5"/>
<path d="M126.2,54 L130.3,66 L126.2,64 L122.1,66 Z" fill="#8c22f0"/>
<circle cx="126.2" cy="75.7" r="9" fill="url(#gPurple)"/>
<line x1="354.2" y1="53.5" x2="354.2" y2="80" stroke="#8c22f0" stroke-width="1.5"/>
<path d="M354.2,88.5 L358.3,76.5 L354.2,78.5 L350.1,76.5 Z" fill="#8c22f0"/>
<circle cx="354.2" cy="68.9" r="8.7" fill="url(#gPurple)"/>
<line x1="583.6" y1="35" x2="583.6" y2="359" stroke="#e00000" stroke-width="1.2"/>
<line x1="628.8" y1="35" x2="628.8" y2="359" stroke="#d80000" stroke-width="1.4"/>
<line x1="674.9" y1="35" x2="674.9" y2="359" stroke="#d80000" stroke-width="1.6"/>
<line x1="720.7" y1="35" x2="720.7" y2="359" stroke="#d40000" stroke-width="1.6"/>
<line x1="766.8" y1="35" x2="766.8" y2="359" stroke="#d00000" stroke-width="1.7"/>
<line x1="812.4" y1="35" x2="812.4" y2="359" stroke="#a82222" stroke-width="1.6"/>
<line x1="858.2" y1="35" x2="858.2" y2="359" stroke="#a82222" stroke-width="1.5"/>
<line x1="902.4" y1="35" x2="902.4" y2="359" stroke="#b02020" stroke-width="1.4"/>
<line x1="920.0" y1="35" x2="920.0" y2="359" stroke="#a82222" stroke-width="1.6"/>
<path d="M584.0,85.0 L592.5,85.0 L592.5,86.0 L593.3,86.0 L593.3,87.0 L593.4,87.0 L593.4,88.0 L596.0,88.0 L596.0,89.0 L594.7,89.0 L594.7,90.0 L596.6,90.0 L596.6,91.0 L601.0,91.0 L601.0,92.0 L595.4,92.0 L595.4,93.0 L598.0,93.0 L598.0,94.0 L593.4,94.0 L593.4,95.0 L593.4,95.0 L593.4,96.0 L592.5,96.0 L592.5,97.0 L591.2,97.0 L591.2,98.0 L591.3,98.0 L591.3,99.0 L591.3,99.0 L591.3,100.0 L593.6,100.0 L593.6,101.0 L593.4,101.0 L593.4,102.0 L592.2,102.0 L592.2,103.0 L593.8,103.0 L593.8,104.0 L592.2,104.0 L592.2,105.0 L595.0,105.0 L595.0,106.0 L594.7,106.0 L594.7,107.0 L596.0,107.0 L596.0,108.0 L597.8,108.0 L597.8,109.0 L601.8,109.0 L601.8,110.0 L594.3,110.0 L594.3,111.0 L590.0,111.0 L590.0,112.0 L589.2,112.0 L589.2,113.0 L590.0,113.0 L590.0,114.0 L588.6,114.0 L588.6,115.0 L590.0,115.0 L590.0,116.0 L588.6,116.0 L588.6,117.0 L588.5,117.0 L588.5,118.0 L590.6,118.0 L590.6,119.0 L590.6,119.0 L590.6,120.0 L588.9,120.0 L588.9,121.0 L589.3,121.0 L589.3,122.0 L589.0,122.0 L589.0,123.0 L590.7,123.0 L590.7,124.0 L591.0,124.0 L591.0,125.0 L589.8,125.0 L589.8,126.0 L595.7,126.0 L595.7,127.0 L592.4,127.0 L592.4,128.0 L593.2,128.0 L593.2,129.0 L596.0,129.0 L596.0,130.0 L596.0,130.0 L596.0,131.0 L594.1,131.0 L594.1,132.0 L593.7,132.0 L593.7,133.0 L593.3,133.0 L593.3,134.0 L593.8,134.0 L593.8,135.0 L593.7,135.0 L593.7,136.0 L595.5,136.0 L595.5,137.0 L593.5,137.0 L593.5,138.0 L594.1,138.0 L594.1,139.0 L594.2,139.0 L594.2,140.0 L593.7,140.0 L593.7,141.0 L596.0,141.0 L596.0,142.0 L594.3,142.0 L594.3,143.0 L594.1,143.0 L594.1,144.0 L596.0,144.0 L596.0,145.0 L593.5,145.0 L593.5,146.0 L601.8,146.0 L601.8,147.0 L597.9,147.0 L597.9,148.0 L595.1,148.0 L595.1,149.0 L594.0,149.0 L594.0,150.0 L592.0,150.0 L592.0,151.0 L591.8,151.0 L591.8,152.0 L592.2,152.0 L592.2,153.0 L592.3,153.0 L592.3,154.0 L592.2,154.0 L592.2,155.0 L596.0,155.0 L596.0,156.0 L598.0,156.0 L598.0,157.0 L593.0,157.0 L593.0,158.0 L591.0,158.0 L591.0,159.0 L591.3,159.0 L591.3,160.0 L591.0,160.0 L591.0,161.0 L592.6,161.0 L592.6,162.0 L590.8,162.0 L590.8,163.0 L590.0,163.0 L590.0,164.0 L589.0,164.0 L589.0,165.0 L588.7,165.0 L588.7,166.0 L588.0,166.0 L588.0,167.0 L588.0,167.0 L588.0,168.0 L586.7,168.0 L586.7,169.0 L586.1,169.0 L586.1,170.0 L585.7,170.0 L585.7,171.0 L584.0,171.0 Z" fill="#ff0000"/>
<path d="M629.2,92.0 L642.4,92.0 L642.4,93.0 L640.2,93.0 L640.2,94.0 L640.8,94.0 L640.8,95.0 L644.0,95.0 L644.0,96.0 L646.3,96.0 L646.3,97.0 L648.6,97.0 L648.6,98.0 L644.0,98.0 L644.0,99.0 L641.0,99.0 L641.0,100.0 L638.7,100.0 L638.7,101.0 L639.0,101.0 L639.0,102.0 L638.8,102.0 L638.8,103.0 L638.6,103.0 L638.6,104.0 L638.8,104.0 L638.8,105.0 L638.7,105.0 L638.7,106.0 L638.8,106.0 L638.8,107.0 L638.3,107.0 L638.3,108.0 L640.2,108.0 L640.2,109.0 L638.5,109.0 L638.5,110.0 L640.1,110.0 L640.1,111.0 L637.2,111.0 L637.2,112.0 L639.8,112.0 L639.8,113.0 L640.0,113.0 L640.0,114.0 L639.7,114.0 L639.7,115.0 L650.8,115.0 L650.8,116.0 L642.3,116.0 L642.3,117.0 L641.0,117.0 L641.0,118.0 L638.6,118.0 L638.6,119.0 L640.0,119.0 L640.0,120.0 L640.1,120.0 L640.1,121.0 L639.6,121.0 L639.6,122.0 L638.6,122.0 L638.6,123.0 L638.7,123.0 L638.7,124.0 L639.1,124.0 L639.1,125.0 L639.5,125.0 L639.5,126.0 L638.8,126.0 L638.8,127.0 L640.5,127.0 L640.5,128.0 L639.4,128.0 L639.4,129.0 L639.2,129.0 L639.2,130.0 L642.0,130.0 L642.0,131.0 L641.3,131.0 L641.3,132.0 L644.2,132.0 L644.2,133.0 L643.9,133.0 L643.9,134.0 L647.7,134.0 L647.7,135.0 L645.5,135.0 L645.5,136.0 L645.0,136.0 L645.0,137.0 L644.3,137.0 L644.3,138.0 L644.7,138.0 L644.7,139.0 L643.6,139.0 L643.6,140.0 L643.7,140.0 L643.7,141.0 L647.7,141.0 L647.7,142.0 L642.4,142.0 L642.4,143.0 L645.2,143.0 L645.2,144.0 L643.0,144.0 L643.0,145.0 L643.0,145.0 L643.0,146.0 L640.5,146.0 L640.5,147.0 L641.2,147.0 L641.2,148.0 L644.1,148.0 L644.1,149.0 L641.6,149.0 L641.6,150.0 L647.7,150.0 L647.7,151.0 L643.8,151.0 L643.8,152.0 L642.3,152.0 L642.3,153.0 L641.8,153.0 L641.8,154.0 L640.1,154.0 L640.1,155.0 L642.0,155.0 L642.0,156.0 L640.6,156.0 L640.6,157.0 L638.9,157.0 L638.9,158.0 L637.9,158.0 L637.9,159.0 L637.7,159.0 L637.7,160.0 L640.0,160.0 L640.0,161.0 L637.2,161.0 L637.2,162.0 L636.2,162.0 L636.2,163.0 L635.8,163.0 L635.8,164.0 L636.6,164.0 L636.6,165.0 L634.8,165.0 L634.8,166.0 L634.6,166.0 L634.6,167.0 L634.4,167.0 L634.4,168.0 L633.6,168.0 L633.6,169.0 L632.8,169.0 L632.8,170.0 L632.7,170.0 L632.7,171.0 L632.2,171.0 L632.2,172.0 L632.0,172.0 L632.0,173.0 L630.5,173.0 L630.5,174.0 L629.2,174.0 Z" fill="#ff0000"/>
<path d="M675.3,102.0 L687.2,102.0 L687.2,103.0 L685.3,103.0 L685.3,104.0 L685.5,104.0 L685.5,105.0 L689.0,105.0 L689.0,106.0 L686.6,106.0 L686.6,107.0 L688.2,107.0 L688.2,108.0 L692.0,108.0 L692.0,109.0 L693.8,109.0 L693.8,110.0 L691.9,110.0 L691.9,111.0 L686.6,111.0 L686.6,112.0 L688.0,112.0 L688.0,113.0 L685.8,113.0 L685.8,114.0 L686.2,114.0 L686.2,115.0 L686.9,115.0 L686.9,116.0 L686.4,116.0 L686.4,117.0 L686.5,117.0 L686.5,118.0 L687.4,118.0 L687.4,119.0 L687.0,119.0 L687.0,120.0 L686.3,120.0 L686.3,121.0 L687.8,121.0 L687.8,122.0 L689.0,122.0 L689.0,123.0 L688.2,123.0 L688.2,124.0 L688.8,124.0 L688.8,125.0 L690.4,125.0 L690.4,126.0 L695.4,126.0 L695.4,127.0 L692.2,127.0 L692.2,128.0 L689.9,128.0 L689.9,129.0 L690.6,129.0 L690.6,130.0 L690.0,130.0 L690.0,131.0 L688.1,131.0 L688.1,132.0 L689.4,132.0 L689.4,133.0 L687.1,133.0 L687.1,134.0 L688.0,134.0 L688.0,135.0 L688.8,135.0 L688.8,136.0 L688.7,136.0 L688.7,137.0 L688.9,137.0 L688.9,138.0 L692.8,138.0 L692.8,139.0 L690.1,139.0 L690.1,140.0 L690.7,140.0 L690.7,141.0 L694.0,141.0 L694.0,142.0 L691.3,142.0 L691.3,143.0 L691.3,143.0 L691.3,144.0 L691.4,144.0 L691.4,145.0 L691.4,145.0 L691.4,146.0 L690.4,146.0 L690.4,147.0 L689.5,147.0 L689.5,148.0 L692.3,148.0 L692.3,149.0 L689.6,149.0 L689.6,150.0 L693.0,150.0 L693.0,151.0 L689.5,151.0 L689.5,152.0 L690.0,152.0 L690.0,153.0 L689.1,153.0 L689.1,154.0 L691.6,154.0 L691.6,155.0 L691.6,155.0 L691.6,156.0 L693.9,156.0 L693.9,157.0 L689.2,157.0 L689.2,158.0 L690.4,158.0 L690.4,159.0 L691.4,159.0 L691.4,160.0 L693.2,160.0 L693.2,161.0 L694.8,161.0 L694.8,162.0 L690.9,162.0 L690.9,163.0 L695.0,163.0 L695.0,164.0 L694.6,164.0 L694.6,165.0 L689.6,165.0 L689.6,166.0 L689.4,166.0 L689.4,167.0 L688.6,167.0 L688.6,168.0 L691.5,168.0 L691.5,169.0 L689.3,169.0 L689.3,170.0 L690.6,170.0 L690.6,171.0 L686.4,171.0 L686.4,172.0 L690.0,172.0 L690.0,173.0 L689.5,173.0 L689.5,174.0 L686.2,174.0 L686.2,175.0 L687.4,175.0 L687.4,176.0 L686.3,176.0 L686.3,177.0 L685.5,177.0 L685.5,178.0 L685.3,178.0 L685.3,179.0 L684.2,179.0 L684.2,180.0 L686.0,180.0 L686.0,181.0 L682.9,181.0 L682.9,182.0 L680.3,182.0 L680.3,183.0 L678.7,183.0 L678.7,184.0 L675.3,184.0 Z" fill="#ff0000"/>
<path d="M721.1,113.0 L729.4,113.0 L729.4,114.0 L729.5,114.0 L729.5,115.0 L730.0,115.0 L730.0,116.0 L731.9,116.0 L731.9,117.0 L729.9,117.0 L729.9,118.0 L732.0,118.0 L732.0,119.0 L732.7,119.0 L732.7,120.0 L739.6,120.0 L739.6,121.0 L731.0,121.0 L731.0,122.0 L729.2,122.0 L729.2,123.0 L729.8,123.0 L729.8,124.0 L728.9,124.0 L728.9,125.0 L728.6,125.0 L728.6,126.0 L731.1,126.0 L731.1,127.0 L728.9,127.0 L728.9,128.0 L729.1,128.0 L729.1,129.0 L729.0,129.0 L729.0,130.0 L729.6,130.0 L729.6,131.0 L732.2,131.0 L732.2,132.0 L729.8,132.0 L729.8,133.0 L729.6,133.0 L729.6,134.0 L729.6,134.0 L729.6,135.0 L729.8,135.0 L729.8,136.0 L732.3,136.0 L732.3,137.0 L731.1,137.0 L731.1,138.0 L731.0,138.0 L731.0,139.0 L730.6,139.0 L730.6,140.0 L732.9,140.0 L732.9,141.0 L734.0,141.0 L734.0,142.0 L731.9,142.0 L731.9,143.0 L737.1,143.0 L737.1,144.0 L739.2,144.0 L739.2,145.0 L742.0,145.0 L742.0,146.0 L736.6,146.0 L736.6,147.0 L741.7,147.0 L741.7,148.0 L737.6,148.0 L737.6,149.0 L739.0,149.0 L739.0,150.0 L738.9,150.0 L738.9,151.0 L744.0,151.0 L744.0,152.0 L739.5,152.0 L739.5,153.0 L738.4,153.0 L738.4,154.0 L737.8,154.0 L737.8,155.0 L737.3,155.0 L737.3,156.0 L742.0,156.0 L742.0,157.0 L736.4,157.0 L736.4,158.0 L736.1,158.0 L736.1,159.0 L734.3,159.0 L734.3,160.0 L737.0,160.0 L737.0,161.0 L734.5,161.0 L734.5,162.0 L735.1,162.0 L735.1,163.0 L735.8,163.0 L735.8,164.0 L740.0,164.0 L740.0,165.0 L732.9,165.0 L732.9,166.0 L731.0,166.0 L731.0,167.0 L728.6,167.0 L728.6,168.0 L728.3,168.0 L728.3,169.0 L729.5,169.0 L729.5,170.0 L729.0,170.0 L729.0,171.0 L729.2,171.0 L729.2,172.0 L728.9,172.0 L728.9,173.0 L729.1,173.0 L729.1,174.0 L729.0,174.0 L729.0,175.0 L729.2,175.0 L729.2,176.0 L729.0,176.0 L729.0,177.0 L729.1,177.0 L729.1,178.0 L729.3,178.0 L729.3,179.0 L729.6,179.0 L729.6,180.0 L731.0,180.0 L731.0,181.0 L729.5,181.0 L729.5,182.0 L729.3,182.0 L729.3,183.0 L728.9,183.0 L728.9,184.0 L729.4,184.0 L729.4,185.0 L730.2,185.0 L730.2,186.0 L728.8,186.0 L728.8,187.0 L729.5,187.0 L729.5,188.0 L731.4,188.0 L731.4,189.0 L721.1,189.0 Z" fill="#ff0000"/>
<path d="M767.4,136.0 L778.5,136.0 L778.5,137.0 L777.1,137.0 L777.1,138.0 L778.3,138.0 L778.3,139.0 L780.1,139.0 L780.1,140.0 L781.0,140.0 L781.0,141.0 L782.2,141.0 L782.2,142.0 L779.8,142.0 L779.8,143.0 L781.9,143.0 L781.9,144.0 L788.2,144.0 L788.2,145.0 L783.8,145.0 L783.8,146.0 L783.5,146.0 L783.5,147.0 L783.4,147.0 L783.4,148.0 L783.5,148.0 L783.5,149.0 L782.7,149.0 L782.7,150.0 L786.0,150.0 L786.0,151.0 L783.6,151.0 L783.6,152.0 L784.7,152.0 L784.7,153.0 L786.5,153.0 L786.5,154.0 L792.5,154.0 L792.5,155.0 L789.5,155.0 L789.5,156.0 L782.3,156.0 L782.3,157.0 L781.6,157.0 L781.6,158.0 L778.0,158.0 L778.0,159.0 L775.3,159.0 L775.3,160.0 L775.9,160.0 L775.9,161.0 L778.0,161.0 L778.0,162.0 L775.4,162.0 L775.4,163.0 L775.8,163.0 L775.8,164.0 L776.2,164.0 L776.2,165.0 L776.2,165.0 L776.2,166.0 L776.4,166.0 L776.4,167.0 L779.7,167.0 L779.7,168.0 L776.6,168.0 L776.6,169.0 L781.0,169.0 L781.0,170.0 L779.3,170.0 L779.3,171.0 L778.5,171.0 L778.5,172.0 L784.0,172.0 L784.0,173.0 L782.3,173.0 L782.3,174.0 L780.9,174.0 L780.9,175.0 L781.8,175.0 L781.8,176.0 L781.1,176.0 L781.1,177.0 L784.7,177.0 L784.7,178.0 L786.9,178.0 L786.9,179.0 L785.8,179.0 L785.8,180.0 L783.1,180.0 L783.1,181.0 L788.0,181.0 L788.0,182.0 L783.1,182.0 L783.1,183.0 L786.8,183.0 L786.8,184.0 L782.2,184.0 L782.2,185.0 L782.4,185.0 L782.4,186.0 L786.8,186.0 L786.8,187.0 L783.3,187.0 L783.3,188.0 L782.0,188.0 L782.0,189.0 L781.6,189.0 L781.6,190.0 L782.5,190.0 L782.5,191.0 L783.6,191.0 L783.6,192.0 L781.2,192.0 L781.2,193.0 L780.8,193.0 L780.8,194.0 L781.2,194.0 L781.2,195.0 L781.9,195.0 L781.9,196.0 L782.7,196.0 L782.7,197.0 L782.3,197.0 L782.3,198.0 L781.4,198.0 L781.4,199.0 L786.8,199.0 L786.8,200.0 L782.1,200.0 L782.1,201.0 L781.5,201.0 L781.5,202.0 L778.2,202.0 L778.2,203.0 L776.8,203.0 L776.8,204.0 L774.4,204.0 L774.4,205.0 L774.0,205.0 L774.0,206.0 L772.9,206.0 L772.9,207.0 L772.4,207.0 L772.4,208.0 L771.5,208.0 L771.5,209.0 L771.0,209.0 L771.0,210.0 L769.7,210.0 L769.7,211.0 L767.4,211.0 Z" fill="#ff0000"/>
<path d="M813.1,166.0 L829.1,166.0 L829.1,167.0 L828.7,167.0 L828.7,168.0 L830.2,168.0 L830.2,169.0 L829.3,169.0 L829.3,170.0 L835.0,170.0 L835.0,171.0 L830.2,171.0 L830.2,172.0 L829.7,172.0 L829.7,173.0 L829.5,173.0 L829.5,174.0 L830.3,174.0 L830.3,175.0 L837.0,175.0 L837.0,176.0 L832.6,176.0 L832.6,177.0 L836.7,177.0 L836.7,178.0 L832.0,178.0 L832.0,179.0 L831.5,179.0 L831.5,180.0 L835.6,180.0 L835.6,181.0 L833.8,181.0 L833.8,182.0 L837.9,182.0 L837.9,183.0 L836.5,183.0 L836.5,184.0 L833.3,184.0 L833.3,185.0 L833.0,185.0 L833.0,186.0 L834.7,186.0 L834.7,187.0 L830.4,187.0 L830.4,188.0 L834.5,188.0 L834.5,189.0 L830.2,189.0 L830.2,190.0 L836.0,190.0 L836.0,191.0 L829.3,191.0 L829.3,192.0 L829.2,192.0 L829.2,193.0 L830.3,193.0 L830.3,194.0 L830.6,194.0 L830.6,195.0 L831.6,195.0 L831.6,196.0 L832.5,196.0 L832.5,197.0 L833.7,197.0 L833.7,198.0 L837.9,198.0 L837.9,199.0 L833.3,199.0 L833.3,200.0 L833.7,200.0 L833.7,201.0 L832.9,201.0 L832.9,202.0 L832.1,202.0 L832.1,203.0 L832.9,203.0 L832.9,204.0 L832.6,204.0 L832.6,205.0 L835.5,205.0 L835.5,206.0 L833.2,206.0 L833.2,207.0 L830.7,207.0 L830.7,208.0 L829.6,208.0 L829.6,209.0 L832.3,209.0 L832.3,210.0 L831.1,210.0 L831.1,211.0 L830.7,211.0 L830.7,212.0 L835.0,212.0 L835.0,213.0 L830.6,213.0 L830.6,214.0 L830.0,214.0 L830.0,215.0 L830.4,215.0 L830.4,216.0 L829.7,216.0 L829.7,217.0 L829.3,217.0 L829.3,218.0 L836.0,218.0 L836.0,219.0 L832.3,219.0 L832.3,220.0 L832.5,220.0 L832.5,221.0 L837.9,221.0 L837.9,222.0 L832.6,222.0 L832.6,223.0 L834.6,223.0 L834.6,224.0 L832.9,224.0 L832.9,225.0 L832.5,225.0 L832.5,226.0 L835.0,226.0 L835.0,227.0 L829.6,227.0 L829.6,228.0 L828.0,228.0 L828.0,229.0 L826.3,229.0 L826.3,230.0 L828.0,230.0 L828.0,231.0 L824.3,231.0 L824.3,232.0 L824.0,232.0 L824.0,233.0 L819.0,233.0 L819.0,234.0 L813.1,234.0 Z" fill="#ff0000"/>
<path d="M858.6,214.0 L866.9,214.0 L866.9,215.0 L866.6,215.0 L866.6,216.0 L867.4,216.0 L867.4,217.0 L868.2,217.0 L868.2,218.0 L870.0,218.0 L870.0,219.0 L868.8,219.0 L868.8,220.0 L870.9,220.0 L870.9,221.0 L872.8,221.0 L872.8,222.0 L878.8,222.0 L878.8,223.0 L875.1,223.0 L875.1,224.0 L873.6,224.0 L873.6,225.0 L872.0,225.0 L872.0,226.0 L871.4,226.0 L871.4,227.0 L873.6,227.0 L873.6,228.0 L873.4,228.0 L873.4,229.0 L872.4,229.0 L872.4,230.0 L872.0,230.0 L872.0,231.0 L868.7,231.0 L868.7,232.0 L872.6,232.0 L872.6,233.0 L871.9,233.0 L871.9,234.0 L873.5,234.0 L873.5,235.0 L873.4,235.0 L873.4,236.0 L874.5,236.0 L874.5,237.0 L875.6,237.0 L875.6,238.0 L876.3,238.0 L876.3,239.0 L882.0,239.0 L882.0,240.0 L877.1,240.0 L877.1,241.0 L875.4,241.0 L875.4,242.0 L874.1,242.0 L874.1,243.0 L873.1,243.0 L873.1,244.0 L873.3,244.0 L873.3,245.0 L875.1,245.0 L875.1,246.0 L871.8,246.0 L871.8,247.0 L873.8,247.0 L873.8,248.0 L874.0,248.0 L874.0,249.0 L872.3,249.0 L872.3,250.0 L871.9,250.0 L871.9,251.0 L872.6,251.0 L872.6,252.0 L873.0,252.0 L873.0,253.0 L873.1,253.0 L873.1,254.0 L874.4,254.0 L874.4,255.0 L877.2,255.0 L877.2,256.0 L882.0,256.0 L882.0,257.0 L875.3,257.0 L875.3,258.0 L873.3,258.0 L873.3,259.0 L871.2,259.0 L871.2,260.0 L871.5,260.0 L871.5,261.0 L872.0,261.0 L872.0,262.0 L869.8,262.0 L869.8,263.0 L869.6,263.0 L869.6,264.0 L865.4,264.0 L865.4,265.0 L858.6,265.0 Z" fill="#ff0000"/>
<path d="M584.0,306.0 L587.3,306.0 L587.3,307.0 L588.2,307.0 L588.2,308.0 L590.1,308.0 L590.1,309.0 L589.9,309.0 L589.9,310.0 L590.6,310.0 L590.6,311.0 L590.4,311.0 L590.4,312.0 L590.7,312.0 L590.7,313.0 L591.8,313.0 L591.8,314.0 L592.2,314.0 L592.2,315.0 L593.7,315.0 L593.7,316.0 L596.8,316.0 L596.8,317.0 L597.0,317.0 L597.0,318.0 L598.6,318.0 L598.6,319.0 L599.3,319.0 L599.3,320.0 L602.7,320.0 L602.7,321.0 L598.5,321.0 L598.5,322.0 L593.5,322.0 L593.5,323.0 L594.6,323.0 L594.6,324.0 L597.4,324.0 L597.4,325.0 L601.5,325.0 L601.5,326.0 L606.9,326.0 L606.9,327.0 L600.6,327.0 L600.6,328.0 L591.8,328.0 L591.8,329.0 L592.3,329.0 L592.3,330.0 L593.2,330.0 L593.2,331.0 L596.0,331.0 L596.0,332.0 L594.0,332.0 L594.0,333.0 L591.0,333.0 L591.0,334.0 L592.1,334.0 L592.1,335.0 L596.5,335.0 L596.5,336.0 L600.5,336.0 L600.5,337.0 L610.3,337.0 L610.3,338.0 L607.1,338.0 L607.1,339.0 L600.2,339.0 L600.2,340.0 L596.9,340.0 L596.9,341.0 L592.9,341.0 L592.9,342.0 L589.3,342.0 L589.3,343.0 L589.0,343.0 L589.0,344.0 L588.7,344.0 L588.7,345.0 L588.4,345.0 L588.4,346.0 L587.5,346.0 L587.5,347.0 L586.6,347.0 L586.6,348.0 L585.7,348.0 L585.7,349.0 L584.6,349.0 L584.6,350.0 L584.6,350.0 L584.6,351.0 L584.0,351.0 Z" fill="#ff0000"/>
<path d="M629.2,312.0 L632.6,312.0 L632.6,313.0 L633.5,313.0 L633.5,314.0 L634.4,314.0 L634.4,315.0 L634.8,315.0 L634.8,316.0 L636.3,316.0 L636.3,317.0 L636.3,317.0 L636.3,318.0 L636.6,318.0 L636.6,319.0 L637.0,319.0 L637.0,320.0 L637.3,320.0 L637.3,321.0 L638.8,321.0 L638.8,322.0 L638.4,322.0 L638.4,323.0 L640.8,323.0 L640.8,324.0 L642.3,324.0 L642.3,325.0 L644.9,325.0 L644.9,326.0 L647.2,326.0 L647.2,327.0 L643.2,327.0 L643.2,328.0 L638.8,328.0 L638.8,329.0 L639.7,329.0 L639.7,330.0 L643.3,330.0 L643.3,331.0 L649.7,331.0 L649.7,332.0 L645.6,332.0 L645.6,333.0 L642.4,333.0 L642.4,334.0 L637.0,334.0 L637.0,335.0 L636.5,335.0 L636.5,336.0 L636.1,336.0 L636.1,337.0 L635.3,337.0 L635.3,338.0 L634.6,338.0 L634.6,339.0 L635.5,339.0 L635.5,340.0 L639.3,340.0 L639.3,341.0 L642.9,341.0 L642.9,342.0 L652.2,342.0 L652.2,343.0 L650.3,343.0 L650.3,344.0 L643.9,344.0 L643.9,345.0 L636.3,345.0 L636.3,346.0 L635.7,346.0 L635.7,347.0 L634.6,347.0 L634.6,348.0 L633.8,348.0 L633.8,349.0 L633.6,349.0 L633.6,350.0 L633.0,350.0 L633.0,351.0 L632.6,351.0 L632.6,352.0 L632.0,352.0 L632.0,353.0 L631.2,353.0 L631.2,354.0 L630.9,354.0 L630.9,355.0 L629.2,355.0 Z" fill="#ff0000"/>
<path d="M675.3,315.0 L680.5,315.0 L680.5,316.0 L681.1,316.0 L681.1,317.0 L681.3,317.0 L681.3,318.0 L681.3,318.0 L681.3,319.0 L681.5,319.0 L681.5,320.0 L682.5,320.0 L682.5,321.0 L683.3,321.0 L683.3,322.0 L684.9,322.0 L684.9,323.0 L687.0,323.0 L687.0,324.0 L688.6,324.0 L688.6,325.0 L689.5,325.0 L689.5,326.0 L692.5,326.0 L692.5,327.0 L691.4,327.0 L691.4,328.0 L692.7,328.0 L692.7,329.0 L692.6,329.0 L692.6,330.0 L693.3,330.0 L693.3,331.0 L693.2,331.0 L693.2,332.0 L695.9,332.0 L695.9,333.0 L695.2,333.0 L695.2,334.0 L690.8,334.0 L690.8,335.0 L687.3,335.0 L687.3,336.0 L684.1,336.0 L684.1,337.0 L686.4,337.0 L686.4,338.0 L690.8,338.0 L690.8,339.0 L690.8,339.0 L690.8,340.0 L694.8,340.0 L694.8,341.0 L700.6,341.0 L700.6,342.0 L702.8,342.0 L702.8,343.0 L713.5,343.0 L713.5,344.0 L709.7,344.0 L709.7,345.0 L695.9,345.0 L695.9,346.0 L693.4,346.0 L693.4,347.0 L688.6,347.0 L688.6,348.0 L682.5,348.0 L682.5,349.0 L681.9,349.0 L681.9,350.0 L681.9,350.0 L681.9,351.0 L681.6,351.0 L681.6,352.0 L681.5,352.0 L681.5,353.0 L680.9,353.0 L680.9,354.0 L680.8,354.0 L680.8,355.0 L679.1,355.0 L679.1,356.0 L675.3,356.0 Z" fill="#ff0000"/>
<path d="M721.1,314.0 L723.3,314.0 L723.3,315.0 L725.3,315.0 L725.3,316.0 L727.6,316.0 L727.6,317.0 L727.7,317.0 L727.7,318.0 L727.4,318.0 L727.4,319.0 L728.1,319.0 L728.1,320.0 L728.4,320.0 L728.4,321.0 L729.3,321.0 L729.3,322.0 L730.2,322.0 L730.2,323.0 L731.5,323.0 L731.5,324.0 L733.4,324.0 L733.4,325.0 L735.2,325.0 L735.2,326.0 L736.8,326.0 L736.8,327.0 L736.2,327.0 L736.2,328.0 L735.6,328.0 L735.6,329.0 L734.7,329.0 L734.7,330.0 L734.8,330.0 L734.8,331.0 L735.1,331.0 L735.1,332.0 L736.2,332.0 L736.2,333.0 L737.7,333.0 L737.7,334.0 L738.6,334.0 L738.6,335.0 L740.1,335.0 L740.1,336.0 L741.9,336.0 L741.9,337.0 L736.1,337.0 L736.1,338.0 L726.8,338.0 L726.8,339.0 L727.0,339.0 L727.0,340.0 L729.8,340.0 L729.8,341.0 L732.9,341.0 L732.9,342.0 L735.2,342.0 L735.2,343.0 L738.4,343.0 L738.4,344.0 L743.5,344.0 L743.5,345.0 L740.4,345.0 L740.4,346.0 L735.2,346.0 L735.2,347.0 L730.1,347.0 L730.1,348.0 L728.8,348.0 L728.8,349.0 L727.2,349.0 L727.2,350.0 L726.3,350.0 L726.3,351.0 L725.1,351.0 L725.1,352.0 L724.7,352.0 L724.7,353.0 L724.1,353.0 L724.1,354.0 L723.4,354.0 L723.4,355.0 L722.7,355.0 L722.7,356.0 L721.1,356.0 Z" fill="#ff0000"/>
<path d="M767.4,318.0 L773.3,318.0 L773.3,319.0 L773.8,319.0 L773.8,320.0 L774.6,320.0 L774.6,321.0 L775.4,321.0 L775.4,322.0 L775.3,322.0 L775.3,323.0 L776.1,323.0 L776.1,324.0 L777.3,324.0 L777.3,325.0 L778.4,325.0 L778.4,326.0 L781.3,326.0 L781.3,327.0 L780.6,327.0 L780.6,328.0 L779.5,328.0 L779.5,329.0 L778.9,329.0 L778.9,330.0 L778.4,330.0 L778.4,331.0 L777.1,331.0 L777.1,332.0 L776.7,332.0 L776.7,333.0 L778.6,333.0 L778.6,334.0 L779.9,334.0 L779.9,335.0 L781.3,335.0 L781.3,336.0 L783.8,336.0 L783.8,337.0 L787.2,337.0 L787.2,338.0 L784.9,338.0 L784.9,339.0 L783.4,339.0 L783.4,340.0 L780.9,340.0 L780.9,341.0 L777.8,341.0 L777.8,342.0 L775.4,342.0 L775.4,343.0 L779.4,343.0 L779.4,344.0 L784.3,344.0 L784.3,345.0 L790.6,345.0 L790.6,346.0 L785.7,346.0 L785.7,347.0 L781.9,347.0 L781.9,348.0 L773.8,348.0 L773.8,349.0 L773.3,349.0 L773.3,350.0 L772.9,350.0 L772.9,351.0 L772.9,351.0 L772.9,352.0 L772.6,352.0 L772.6,353.0 L772.1,353.0 L772.1,354.0 L771.4,354.0 L771.4,355.0 L767.4,355.0 Z" fill="#ff0000"/>
<path d="M813.1,322.0 L815.5,322.0 L815.5,323.0 L816.2,323.0 L816.2,324.0 L817.2,324.0 L817.2,325.0 L817.8,325.0 L817.8,326.0 L819.1,326.0 L819.1,327.0 L820.0,327.0 L820.0,328.0 L821.3,328.0 L821.3,329.0 L822.9,329.0 L822.9,330.0 L823.4,330.0 L823.4,331.0 L825.8,331.0 L825.8,332.0 L831.7,332.0 L831.7,333.0 L830.1,333.0 L830.1,334.0 L830.7,334.0 L830.7,335.0 L829.2,335.0 L829.2,336.0 L830.4,336.0 L830.4,337.0 L828.5,337.0 L828.5,338.0 L828.5,338.0 L828.5,339.0 L829.2,339.0 L829.2,340.0 L829.4,340.0 L829.4,341.0 L829.6,341.0 L829.6,342.0 L830.0,342.0 L830.0,343.0 L831.0,343.0 L831.0,344.0 L831.7,344.0 L831.7,345.0 L834.2,345.0 L834.2,346.0 L831.2,346.0 L831.2,347.0 L827.3,347.0 L827.3,348.0 L822.5,348.0 L822.5,349.0 L821.9,349.0 L821.9,350.0 L820.5,350.0 L820.5,351.0 L819.4,351.0 L819.4,352.0 L817.4,352.0 L817.4,353.0 L817.2,353.0 L817.2,354.0 L816.7,354.0 L816.7,355.0 L816.0,355.0 L816.0,356.0 L815.7,356.0 L815.7,357.0 L813.1,357.0 Z" fill="#ff0000"/>
<path d="M858.6,332.0 L862.1,332.0 L862.1,333.0 L863.6,333.0 L863.6,334.0 L866.1,334.0 L866.1,335.0 L866.3,335.0 L866.3,336.0 L866.1,336.0 L866.1,337.0 L867.0,337.0 L867.0,338.0 L868.1,338.0 L868.1,339.0 L868.1,339.0 L868.1,340.0 L868.6,340.0 L868.6,341.0 L869.4,341.0 L869.4,342.0 L870.2,342.0 L870.2,343.0 L869.7,343.0 L869.7,344.0 L869.9,344.0 L869.9,345.0 L870.3,345.0 L870.3,346.0 L872.2,346.0 L872.2,347.0 L870.8,347.0 L870.8,348.0 L871.1,348.0 L871.1,349.0 L871.2,349.0 L871.2,350.0 L873.0,350.0 L873.0,351.0 L884.5,351.0 L884.5,352.0 L884.5,352.0 L884.5,353.0 L880.1,353.0 L880.1,354.0 L866.1,354.0 L866.1,355.0 L865.4,355.0 L865.4,356.0 L864.2,356.0 L864.2,357.0 L863.4,357.0 L863.4,358.0 L862.0,358.0 L862.0,359.0 L861.0,359.0 L861.0,360.0 L858.6,360.0 Z" fill="#ff0000"/>
<path d="M902.8,286.0 L903.4,286.0 L903.4,287.0 L903.4,287.0 L903.4,288.0 L903.4,288.0 L903.4,289.0 L903.6,289.0 L903.6,290.0 L903.8,290.0 L903.8,291.0 L903.9,291.0 L903.9,292.0 L904.2,292.0 L904.2,293.0 L904.5,293.0 L904.5,294.0 L910.5,294.0 L910.5,295.0 L910.3,295.0 L910.3,296.0 L911.3,296.0 L911.3,297.0 L911.2,297.0 L911.2,298.0 L912.5,298.0 L912.5,299.0 L913.1,299.0 L913.1,300.0 L914.4,300.0 L914.4,301.0 L915.5,301.0 L915.5,302.0 L916.7,302.0 L916.7,303.0 L918.5,303.0 L918.5,304.0 L916.3,304.0 L916.3,305.0 L915.1,305.0 L915.1,306.0 L913.5,306.0 L913.5,307.0 L912.5,307.0 L912.5,308.0 L911.1,308.0 L911.1,309.0 L909.8,309.0 L909.8,310.0 L908.5,310.0 L908.5,311.0 L907.3,311.0 L907.3,312.0 L905.4,312.0 L905.4,313.0 L902.8,313.0 Z" fill="#ff0000"/>
<path d="M920.4,337.0 L925.5,337.0 L925.5,338.0 L926.2,338.0 L926.2,339.0 L927.3,339.0 L927.3,340.0 L928.6,340.0 L928.6,341.0 L929.0,341.0 L929.0,342.0 L932.6,342.0 L932.6,343.0 L929.8,343.0 L929.8,344.0 L927.6,344.0 L927.6,345.0 L926.2,345.0 L926.2,346.0 L922.6,346.0 L922.6,347.0 L921.9,347.0 L921.9,348.0 L920.4,348.0 Z" fill="#ff0000"/>
<path d="M902.4,350 Q902.6,358.6 908,358.6 L920,358.6" fill="none" stroke="#e00000" stroke-width="1.4"/>
<path d="M920,352 Q920.2,358.8 925,358.8 L944,358.8" fill="none" stroke="#e00000" stroke-width="1.4"/>
<path d="M906,327 L906.5,330" stroke="#e00000" stroke-width="1.5"/>
<path d="M538.0,123.2 C545.5,123.6 568.1,124.7 583.3,125.7 C598.5,126.8 614.0,128.1 629.4,129.5 C644.8,130.9 660.0,131.5 675.6,134.1 C691.2,136.7 710.9,141.6 723.2,145.1 C735.5,148.6 742.0,152.0 749.3,154.9 C756.6,157.8 760.1,159.0 767.0,162.4 C773.9,165.8 783.0,170.4 790.9,175.1 C798.8,179.8 807.8,186.1 814.1,190.6 C820.4,195.1 824.0,197.9 828.8,202.0 C833.6,206.1 838.3,210.6 842.8,214.9 C847.3,219.2 851.5,223.3 855.6,227.7 C859.8,232.1 864.5,237.5 867.7,241.2 C870.9,244.9 872.7,247.2 874.9,250.0 C877.1,252.8 878.3,254.0 880.8,257.8 C883.3,261.6 886.7,267.7 889.7,272.6 C892.7,277.6 896.1,282.6 898.6,287.5 C901.1,292.4 902.5,297.4 904.5,302.3 C906.5,307.2 908.4,311.7 910.4,317.1 C912.4,322.6 914.7,329.6 916.4,335.0 C918.1,340.4 919.6,346.0 920.8,349.8 C922.0,353.6 923.3,356.5 923.8,357.8" fill="none" stroke="#000" stroke-width="1.5" stroke-dasharray="4.3 4.9"/>
<path d="M538.0,329.8 C545.6,330.0 568.4,330.3 583.6,331.0 C598.8,331.7 613.8,333.0 629.0,334.0 C644.2,335.0 659.7,336.1 675.0,337.0 C690.3,337.9 705.4,338.5 720.7,339.5 C736.0,340.5 751.7,342.0 767.0,342.9 C782.3,343.8 797.5,344.0 812.7,345.0 C827.9,346.0 847.8,347.8 858.2,348.7 C868.6,349.6 867.2,349.8 875.0,350.4 C882.8,351.0 897.2,351.0 905.0,352.3 C912.8,353.6 919.2,357.1 922.0,358.0" fill="none" stroke="#000" stroke-width="1.5" stroke-dasharray="4.3 4.9"/>
<rect x="537.7" y="35" width="414" height="325.6" fill="none" stroke="#000" stroke-width="1.8"/>
<line x1="537.6" y1="327.9" x2="546.8" y2="327.9" stroke="#000" stroke-width="1.6"/>
<line x1="537.6" y1="295.4" x2="546.8" y2="295.4" stroke="#000" stroke-width="1.6"/>
<line x1="537.6" y1="262.9" x2="546.8" y2="262.9" stroke="#000" stroke-width="1.6"/>
<line x1="537.6" y1="230.3" x2="546.8" y2="230.3" stroke="#000" stroke-width="1.6"/>
<line x1="537.6" y1="197.8" x2="546.8" y2="197.8" stroke="#000" stroke-width="1.6"/>
<line x1="537.6" y1="165.2" x2="546.8" y2="165.2" stroke="#000" stroke-width="1.6"/>
<line x1="537.6" y1="132.7" x2="546.8" y2="132.7" stroke="#000" stroke-width="1.6"/>
<line x1="537.6" y1="100.1" x2="546.8" y2="100.1" stroke="#000" stroke-width="1.6"/>
<line x1="537.6" y1="67.6" x2="546.8" y2="67.6" stroke="#000" stroke-width="1.6"/>
<text x="534.6" y="368.3" font-family="Liberation Sans, sans-serif" font-size="25" text-anchor="end" textLength="14.8" lengthAdjust="spacingAndGlyphs">0</text>
<text x="534.1" y="304.6" font-family="Liberation Sans, sans-serif" font-size="25" text-anchor="end" textLength="14.8" lengthAdjust="spacingAndGlyphs">4</text>
<text x="535.1" y="239.4" font-family="Liberation Sans, sans-serif" font-size="25" text-anchor="end" textLength="14.8" lengthAdjust="spacingAndGlyphs">8</text>
<text x="533.4" y="173.5" font-family="Liberation Sans, sans-serif" font-size="25" text-anchor="end" textLength="29.6" lengthAdjust="spacingAndGlyphs">12</text>
<text x="533.6" y="110.9" font-family="Liberation Sans, sans-serif" font-size="25" text-anchor="end" textLength="29.6" lengthAdjust="spacingAndGlyphs">16</text>
<text x="534.6" y="44.6" font-family="Liberation Sans, sans-serif" font-size="25" text-anchor="end" textLength="29.6" lengthAdjust="spacingAndGlyphs">20</text>
<text x="539.8" y="385.2" font-family="Liberation Sans, sans-serif" font-size="25" text-anchor="middle" textLength="14.8" lengthAdjust="spacingAndGlyphs">0</text>
<text x="626.4" y="385.2" font-family="Liberation Sans, sans-serif" font-size="25" text-anchor="middle" textLength="29.6" lengthAdjust="spacingAndGlyphs">20</text>
<text x="716.4" y="385.2" font-family="Liberation Sans, sans-serif" font-size="25" text-anchor="middle" textLength="29.6" lengthAdjust="spacingAndGlyphs">40</text>
<text x="808" y="385.2" font-family="Liberation Sans, sans-serif" font-size="25" text-anchor="middle" textLength="29.6" lengthAdjust="spacingAndGlyphs">60</text>
<text x="898.7" y="385.2" font-family="Liberation Sans, sans-serif" font-size="25" text-anchor="middle" textLength="29.6" lengthAdjust="spacingAndGlyphs">80</text>
<text x="733.5" y="409.2" font-family="Liberation Sans, sans-serif" font-size="25" textLength="57.9" lengthAdjust="spacingAndGlyphs">T (K)</text>
<text transform="translate(497.2,222.7) rotate(-90)" font-family="Liberation Sans, sans-serif" font-size="25" textLength="70" lengthAdjust="spacingAndGlyphs">(meV)</text>
<text x="476.2" y="20.5" font-family="Liberation Sans, sans-serif" font-size="30">(</text><text x="487.2" y="20.7" font-family="Liberation Sans, sans-serif" font-size="27">b</text><text x="504.6" y="20.5" font-family="Liberation Sans, sans-serif" font-size="30">)</text>
<path d="M558.88,68.50 L567.90,89.00 L549.50,89.00 Z M557.94,73.63 L551.63,87.40 L564.00,87.40 Z" fill="#000" fill-rule="evenodd"/>
<text x="568" y="95.7" font-family="Liberation Sans, sans-serif" font-size="22.5" textLength="11.8" lengthAdjust="spacingAndGlyphs">2</text>
<path d="M558.88,288.10 L567.90,308.60 L549.50,308.60 Z M557.94,293.23 L551.63,307.00 L564.00,307.00 Z" fill="#000" fill-rule="evenodd"/>
<text x="568.3" y="315.8" font-family="Liberation Sans, sans-serif" font-size="22.5" textLength="11.8" lengthAdjust="spacingAndGlyphs">1</text>
<path transform="translate(495.6,246.3) rotate(-90)" d="M7.24,-16.60 L14.20,0.00 L0.00,0.00 Z M6.45,-12.27 L1.67,-1.30 L11.06,-1.30 Z" fill="#000" fill-rule="evenodd"/>
</svg>
</body></html>
